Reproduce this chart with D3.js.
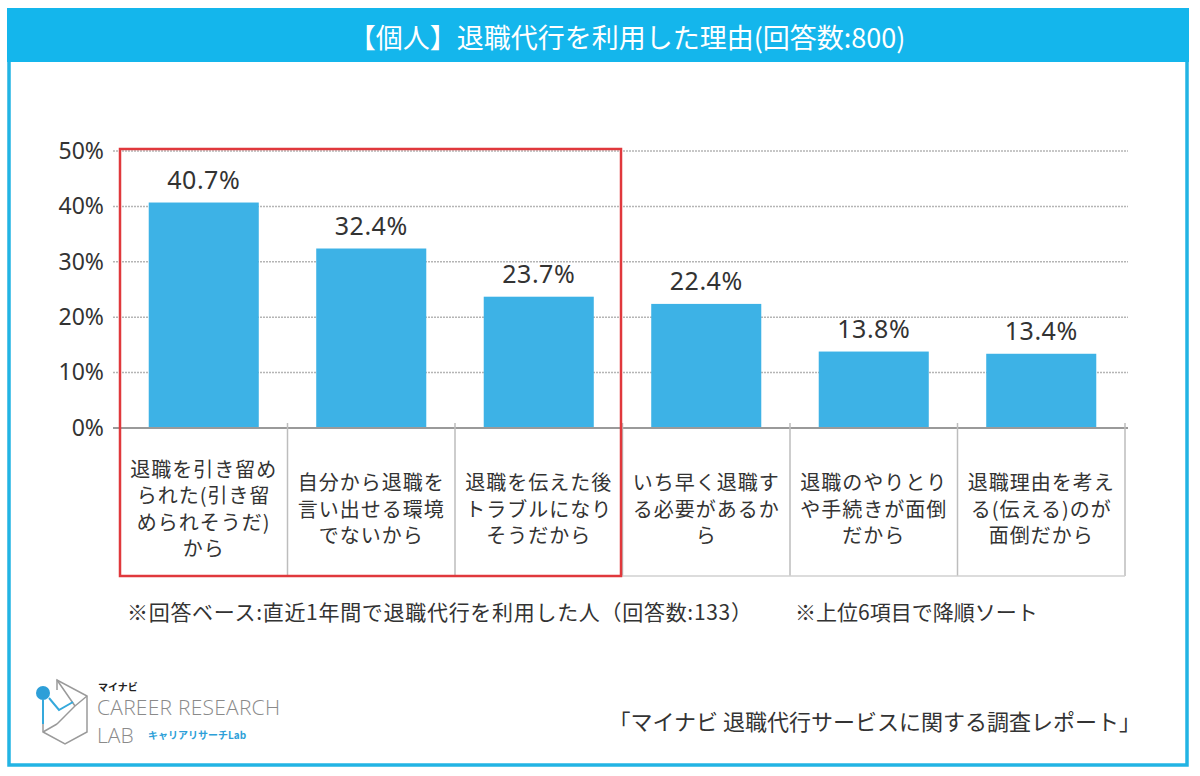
<!DOCTYPE html>
<html>
<head>
<meta charset="utf-8">
<script src="https://cdn.jsdelivr.net/npm/d3@7"></script>
<style>
  html, body { margin: 0; padding: 0; background: #fff; }
  svg { display: block; font-family: "Noto Sans CJK JP", "Noto Sans", sans-serif; }
</style>
</head>
<body>
<div id="chart"></div>
<script>
// data
const categories = [
    "退職を引き留め\nられた(引き留\nめられそうだ)\nから",
    "自分から退職を\n言い出せる環境\nでないから",
    "退職を伝えた後\nトラブルになり\nそうだから",
    "いち早く退職す\nる必要があるか\nら",
    "退職のやりとり\nや手続きが面倒\nだから",
    "退職理由を考え\nる(伝える)のが\n面倒だから"
];
const values = [40.7, 32.4, 23.7, 22.4, 13.8, 13.4];
const yTicks = [0, 10, 20, 30, 40, 50];
const highlighted = 3; // first three items boxed in red

const titleText = "【個人】退職代行を利用した理由(回答数:800)";
const noteText1 = "※回答ベース:直近1年間で退職代行を利用した人（回答数:133）";
const noteText2 = "※上位6項目で降順ソート";
const sourceText = "「マイナビ 退職代行サービスに関する調査レポート」";

const width = 1200;
const height = 776;
const blue = "#14b6ec";
const barColor = "#3db2e6";
const textColor = "#333";

const svg = d3.select('#chart')
    .append('svg')
    .attr('width', width)
    .attr('height', height);

// frame + header
svg.append('rect')
    .attr('x', 9).attr('y', 10)
    .attr('width', 1178).attr('height', 755)
    .attr('fill', '#fff')
    .attr('stroke', '#22b4e4')
    .attr('stroke-width', 3.5);

svg.append('rect')
    .attr('x', 7).attr('y', 8)
    .attr('width', 1182).attr('height', 54)
    .attr('fill', blue);

svg.append('text')
    .attr('x', 627).attr('y', 36)
    .attr('text-anchor', 'middle')
    .attr('dominant-baseline', 'central')
    .style('font-size', '27px')
    .style('fill', '#fff')
    .text(titleText);

// scales
const plotLeft = 120, plotRight = 1125;
const plotTop = 151, plotBottom = 428;
const tableBottom = 576;

const xScale = d3.scaleBand()
    .domain(d3.range(values.length))
    .range([plotLeft, plotRight])
    .paddingInner(0.343)
    .paddingOuter(0.343 / 2);

const yScale = d3.scaleLinear()
    .domain([0, 50])
    .range([plotBottom, plotTop]);

const step = xScale.step();

// dotted gridlines
svg.append('g')
    .selectAll('line')
    .data(yTicks.filter(d => d > 0))
    .join('line')
    .attr('x1', plotLeft - 7)
    .attr('x2', plotRight + 3)
    .attr('y1', d => yScale(d))
    .attr('y2', d => yScale(d))
    .attr('stroke', '#b5b5b5')
    .attr('stroke-width', 1.5)
    .attr('stroke-dasharray', '2,1');

// y axis labels
const yAxis = svg.append('g')
    .attr('transform', `translate(${plotLeft - 16},0)`)
    .call(d3.axisLeft(yScale).tickValues(yTicks).tickFormat(d => d + '%').tickSize(0).tickPadding(0));
yAxis.select('.domain').remove();
yAxis.selectAll('text')
    .style('font-size', '23px')
    .style('font-family', '"Noto Sans", "DejaVu Sans", sans-serif')
    .style('fill', textColor);

// bars
svg.append('g')
    .selectAll('rect')
    .data(values)
    .join('rect')
    .attr('x', (d, i) => xScale(i))
    .attr('y', d => yScale(d))
    .attr('width', xScale.bandwidth())
    .attr('height', d => plotBottom - yScale(d))
    .attr('fill', barColor);

// value labels
svg.append('g')
    .selectAll('text')
    .data(values)
    .join('text')
    .attr('x', (d, i) => xScale(i) + xScale.bandwidth() / 2)
    .attr('y', d => yScale(d) - 14)
    .attr('text-anchor', 'middle')
    .style('font-size', '25px')
    .style('letter-spacing', '0.5px')
    .style('font-family', '"Noto Sans", "DejaVu Sans", sans-serif')
    .style('fill', textColor)
    .text(d => d.toFixed(1) + '%');

// baseline
svg.append('line')
    .attr('x1', plotLeft - 7).attr('x2', plotRight + 3)
    .attr('y1', plotBottom).attr('y2', plotBottom)
    .attr('stroke', '#9a9a9a')
    .attr('stroke-width', 2);

// category table below the axis
const boundaries = d3.range(values.length + 1).map(i => plotLeft + i * step);
svg.append('g')
    .selectAll('line')
    .data(boundaries)
    .join('line')
    .attr('x1', d => d).attr('x2', d => d)
    .attr('y1', plotBottom - 5)
    .attr('y2', tableBottom)
    .attr('stroke', '#bdbdbd')
    .attr('stroke-width', 1.5);

svg.append('line')
    .attr('x1', plotLeft).attr('x2', plotRight)
    .attr('y1', tableBottom).attr('y2', tableBottom)
    .attr('stroke', '#d0d0d0')
    .attr('stroke-width', 1.5);

const lineHeight = 26.5;
const cellMid = 508;
const catGroups = svg.append('g')
    .selectAll('text')
    .data(categories)
    .join('text')
    .attr('text-anchor', 'middle')
    .style('font-size', '20px')
    .style('letter-spacing', '1px')
    .style('fill', textColor);

catGroups.each(function (d, i) {
    const lines = d.split('\n');
    const cx = plotLeft + (i + 0.5) * step;
    const y0 = cellMid - (lines.length - 1) * lineHeight / 2;
    d3.select(this).selectAll('tspan')
        .data(lines)
        .join('tspan')
        .attr('x', cx)
        .attr('y', (l, j) => y0 + j * lineHeight)
        .attr('dominant-baseline', 'central')
        .text(l => l);
});

// red highlight box
svg.append('rect')
    .attr('x', plotLeft)
    .attr('y', plotTop - 2)
    .attr('width', highlighted * step - 1.5)
    .attr('height', tableBottom - plotTop + 2)
    .attr('fill', 'none')
    .attr('stroke', '#e0383c')
    .attr('stroke-width', 2.5);

// footnotes
svg.append('text')
    .attr('x', 127).attr('y', 611)
    .attr('dominant-baseline', 'central')
    .style('font-size', '21px')
    .style('letter-spacing', '0.7px')
    .style('fill', textColor)
    .text(noteText1);

svg.append('text')
    .attr('x', 795).attr('y', 611)
    .attr('dominant-baseline', 'central')
    .style('font-size', '21px')
    .style('fill', textColor)
    .text(noteText2);

svg.append('text')
    .attr('x', 1141).attr('y', 720)
    .attr('text-anchor', 'end')
    .attr('dominant-baseline', 'central')
    .style('font-size', '22px')
    .style('fill', textColor)
    .text(sourceText);

// logo (decoration)
const logo = svg.append('g').attr('transform', 'translate(35,680)');
logo.append('path')
    .attr('d', 'M22,10 L22,0 L52,16 L52,52 L30,64 L8,52 L8,30')
    .attr('fill', 'none').attr('stroke', '#9a9a9a').attr('stroke-width', 1.5);
logo.append('path')
    .attr('d', 'M22,0 L40,26 L22,44 M52,16 L40,26 M8,52 L22,44')
    .attr('fill', 'none').attr('stroke', '#9a9a9a').attr('stroke-width', 1.5);
logo.append('path')
    .attr('d', 'M8,20 L8,44 M14,18 L24,30 L38,22')
    .attr('fill', 'none').attr('stroke', '#35a9dc').attr('stroke-width', 2);
logo.append('circle')
    .attr('cx', 8).attr('cy', 13).attr('r', 7)
    .attr('fill', '#2d9fd8');
logo.append('text')
    .attr('x', 63).attr('y', 6)
    .attr('dominant-baseline', 'central')
    .style('font-size', '10px').style('font-weight', 'bold').style('fill', '#222')
    .text('マイナビ');
logo.append('text')
    .attr('x', 62).attr('y', 27)
    .attr('dominant-baseline', 'central')
    .style('font-family', '"Open Sans", sans-serif')
    .style('font-size', '21px').style('font-weight', 300).style('fill', '#8a8a8a')
    .attr('textLength', 183)
    .text('CAREER RESEARCH');
logo.append('text')
    .attr('x', 62).attr('y', 55)
    .attr('dominant-baseline', 'central')
    .style('font-family', '"Open Sans", sans-serif')
    .style('font-size', '21px').style('font-weight', 300).style('fill', '#8a8a8a')
    .text('LAB');
logo.append('text')
    .attr('x', 113).attr('y', 54)
    .attr('dominant-baseline', 'central')
    .style('font-size', '10px').style('font-weight', 'bold').style('fill', '#2d9fd8')
    .text('キャリアリサーチLab');
</script>
</body>
</html>
